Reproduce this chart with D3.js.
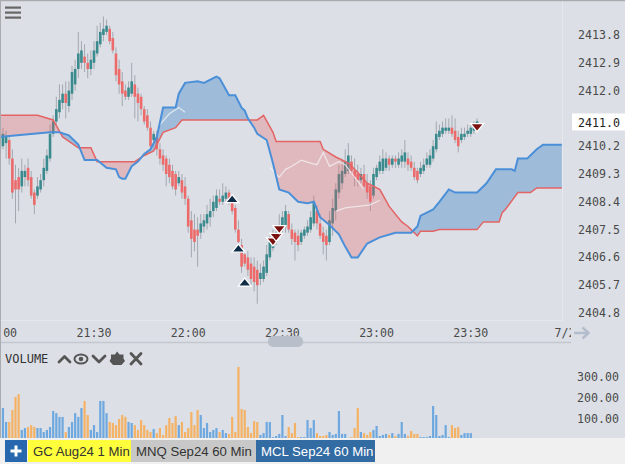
<!DOCTYPE html>
<html><head><meta charset="utf-8">
<script src="https://cdn.jsdelivr.net/npm/d3@7"></script>
<style>
html,body{margin:0;padding:0;background:#dce0e6;overflow:hidden}
svg{display:block}
</style></head><body>
<svg id="c" width="625" height="464"></svg>
<script>
// 1-minute bars from 21:00, each [open, high, low, close]
const candles = [
[2410.1,2410.7,2409.9,2410.5],[2410.2,2410.8,2410.1,2410.6],[2410.3,2410.7,2409.8,2410.5],[2410.4,2410.5,2409.6,2409.8],
[2409.8,2410.1,2408.5,2408.7],[2409.1,2409.6,2407.7,2408.8],[2409.2,2409.5,2408.1,2408.8],[2408.9,2409.8,2408.7,2409.4],
[2409.2,2409.6,2408.9,2409.4],[2409.5,2409.8,2408.9,2409.1],[2409.2,2409.4,2408.5,2408.6],[2408.7,2408.8,2408.0,2408.3],
[2408.6,2409.2,2408.5,2408.9],[2408.8,2409.3,2408.7,2409.1],[2409.1,2409.8,2408.9,2409.5],[2409.4,2410.1,2409.3,2409.9],
[2409.8,2410.9,2409.7,2410.6],[2410.6,2411.2,2410.5,2411.0],[2411.0,2411.8,2410.9,2411.4],[2411.3,2412.2,2411.1,2411.7],
[2411.6,2412.2,2411.4,2411.9],[2411.9,2412.3,2411.1,2411.6],[2411.5,2412.3,2411.3,2412.0],[2411.9,2412.8,2411.7,2412.6],
[2412.2,2413.0,2412.0,2412.7],[2412.7,2413.9,2412.4,2413.2],[2412.9,2413.6,2412.7,2413.3],[2413.1,2413.5,2412.6,2412.9],
[2412.9,2413.2,2412.4,2412.7],[2412.7,2413.3,2412.5,2413.0],[2412.9,2413.6,2412.7,2413.3],[2413.2,2414.1,2413.1,2413.6],
[2413.5,2414.2,2413.4,2413.9],[2413.8,2414.4,2413.6,2414.0],[2413.9,2414.3,2413.8,2414.1],[2414.0,2414.1,2413.5,2413.6],
[2413.7,2413.9,2413.2,2413.3],[2413.2,2413.4,2412.3,2412.5],[2412.7,2413.0,2411.9,2412.2],[2412.3,2412.6,2411.5,2411.9],
[2412.0,2412.2,2411.7,2411.8],[2411.8,2412.3,2411.7,2412.1],[2411.9,2412.9,2411.8,2412.3],[2412.2,2412.5,2411.1,2411.8],
[2411.9,2412.1,2411.0,2411.6],[2411.8,2411.9,2411.2,2411.4],[2411.4,2411.5,2410.9,2411.0],[2411.2,2411.4,2410.7,2410.8],
[2410.8,2411.0,2410.1,2410.2],[2410.4,2410.7,2410.2,2410.6],[2410.5,2410.7,2409.9,2410.1],[2410.1,2410.3,2409.6,2409.8],
[2409.9,2410.1,2409.4,2409.6],[2409.8,2409.9,2408.9,2409.3],[2409.6,2409.8,2409.0,2409.2],[2409.4,2409.6,2408.8,2408.9],
[2409.3,2409.4,2408.6,2408.8],[2409.0,2409.4,2408.9,2409.2],[2409.1,2409.3,2408.5,2408.7],[2408.9,2409.2,2408.3,2408.5],
[2408.5,2408.6,2407.4,2407.6],[2407.8,2408.1,2406.6,2407.2],[2407.5,2408.0,2406.8,2407.1],[2407.5,2407.9,2406.3,2407.3],
[2407.4,2408.0,2407.2,2407.7],[2407.6,2408.0,2407.4,2407.8],[2407.7,2408.3,2407.5,2408.0],[2407.9,2408.5,2407.6,2408.1],
[2408.1,2408.6,2407.9,2408.4],[2408.2,2408.8,2408.1,2408.6],[2408.5,2408.8,2408.3,2408.4],[2408.4,2409.0,2408.3,2408.6],
[2408.5,2408.9,2408.4,2408.7],[2408.7,2408.8,2408.3,2408.5],[2408.5,2408.6,2408.0,2408.1],[2408.2,2408.3,2407.4,2407.5],
[2407.5,2407.8,2407.0,2407.1],[2407.0,2407.2,2406.1,2406.3],[2406.7,2406.8,2406.3,2406.4],[2406.6,2406.8,2406.0,2406.2],
[2406.4,2406.6,2405.7,2405.9],[2406.3,2406.6,2405.5,2405.8],[2406.2,2406.5,2405.1,2405.7],[2405.9,2406.4,2405.7,2406.1],
[2405.9,2406.5,2405.8,2406.3],[2406.1,2407.0,2406.0,2406.7],[2406.6,2407.3,2406.5,2407.1],[2406.9,2407.5,2406.8,2407.3],
[2407.1,2407.6,2407.0,2407.4],[2407.3,2408.0,2407.2,2407.6],[2407.5,2408.1,2407.4,2407.9],[2407.6,2408.3,2407.4,2408.1],
[2408.0,2408.1,2407.4,2407.5],[2407.5,2407.7,2407.0,2407.2],[2407.4,2407.5,2406.5,2407.1],[2407.3,2407.5,2406.8,2407.0],
[2407.1,2407.5,2407.0,2407.4],[2407.3,2407.6,2407.2,2407.5],[2407.4,2407.8,2407.3,2407.6],[2407.5,2408.1,2407.4,2407.9],
[2407.7,2408.6,2407.6,2408.4],[2408.1,2408.3,2407.5,2407.7],[2407.7,2408.0,2407.2,2407.3],[2407.4,2407.6,2406.7,2407.1],
[2407.3,2407.5,2406.5,2407.0],[2407.1,2408.1,2407.0,2407.8],[2407.7,2408.5,2407.3,2408.2],[2408.1,2409.0,2407.8,2408.8],
[2408.7,2409.6,2408.5,2409.3],[2409.0,2409.8,2408.8,2409.4],[2409.3,2410.1,2409.2,2409.7],[2409.4,2410.3,2409.3,2409.9],
[2409.7,2409.9,2409.3,2409.4],[2409.4,2409.8,2408.9,2409.2],[2409.3,2409.6,2408.9,2409.1],[2409.1,2409.5,2409.0,2409.3],
[2409.3,2409.6,2408.8,2408.9],[2409.0,2409.3,2408.5,2408.7],[2408.9,2409.1,2408.1,2408.4],[2408.6,2409.5,2408.5,2409.3],
[2409.2,2409.6,2409.1,2409.5],[2409.4,2409.9,2409.3,2409.7],[2409.4,2410.1,2409.3,2409.8],[2409.5,2410.0,2409.4,2409.8],
[2409.8,2409.9,2409.4,2409.6],[2409.6,2409.9,2409.5,2409.8],[2409.8,2409.9,2409.5,2409.7],[2409.6,2410.0,2409.5,2409.8],
[2409.7,2410.1,2409.5,2409.9],[2409.7,2410.4,2409.5,2410.0],[2409.8,2410.0,2409.4,2409.6],[2409.7,2409.9,2409.4,2409.5],
[2409.5,2409.7,2409.1,2409.2],[2409.4,2409.5,2409.0,2409.1],[2409.3,2409.7,2409.2,2409.5],[2409.4,2409.8,2409.3,2409.6],
[2409.6,2410.0,2409.5,2409.8],[2409.6,2410.1,2409.5,2409.9],[2409.8,2410.4,2409.7,2410.2],[2410.1,2411.0,2410.0,2410.6],
[2410.5,2410.9,2410.4,2410.7],[2410.6,2411.0,2410.5,2410.8],[2410.7,2411.1,2410.6,2410.8],[2410.7,2411.1,2410.6,2410.8],
[2410.8,2411.2,2410.5,2410.6],[2410.7,2411.1,2410.3,2410.4],[2410.5,2410.7,2410.0,2410.2],[2410.4,2410.8,2410.3,2410.6],
[2410.5,2410.8,2410.4,2410.6],[2410.6,2410.9,2410.5,2410.7],[2410.6,2410.9,2410.5,2410.8],[2410.7,2411.0,2410.6,2410.9],
[2410.8,2411.1,2410.7,2411.0]
];
const volumes = [
100,152,86,86,143,205,219,48,57,62,71,62,57,57,38,48,62,138,128,110,
110,38,62,86,128,110,152,186,119,48,71,38,186,186,128,86,81,71,100,119,
110,86,81,71,48,95,71,48,38,52,33,57,24,71,105,81,114,71,86,38,
57,133,71,143,119,57,81,38,48,57,38,48,33,29,110,38,348,148,143,62,
33,90,86,24,33,86,86,14,19,29,119,19,62,33,81,14,14,14,95,57,
95,33,19,19,24,38,24,29,138,29,29,10,14,57,152,38,33,24,38,48,
67,19,24,29,24,33,19,29,86,29,20,43,29,29,14,14,14,19,162,119,
19,24,71,14,71,57,62,24,33,33,33,10,10
];
// Ichimoku leading spans: [minute index from 21:00, price]
const spanA = [[0,2410.5],[16,2410.65],[19,2410.65],[22,2410.55],[25,2410.25],[27,2409.75],[31,2409.75],[34,2409.5],[37,2409.45],[38,2409.2],[39,2409.15],[40,2409.15],[42,2409.55],[44,2409.7],[46,2409.95],[48,2410.1],[50,2410.5],[52,2411.45],[56,2411.45],[57,2411.9],[59,2412.25],[63,2412.3],[65,2412.25],[69,2412.45],[70,2412.4],[73,2411.85],[75,2411.85],[77,2411.45],[78,2411.35],[79,2411.1],[81,2410.8],[82,2410.6],[85,2410.4],[87,2409.65],[89,2408.8],[92,2408.7],[95,2408.4],[98,2408.35],[100,2408.4],[102,2407.9],[105,2407.65],[108,2407.35],[110,2406.95],[112,2406.6],[114,2406.6],[117,2407.05],[121,2407.25],[126,2407.4],[131,2407.4],[133,2407.6],[134,2407.95],[136,2408.05],[138,2408.15],[140,2408.4],[143,2408.8],[145,2408.7],[152,2408.7],[155,2409.0],[158,2409.45],[163,2409.45],[164,2409.4],[165,2409.8],[168,2409.8],[171,2410.1],[173,2410.25],[179,2410.25]];
const spanB = [[0,2411.2],[12,2411.2],[17,2411.05],[20,2410.5],[25,2410.15],[29,2410.15],[31,2409.7],[43,2409.7],[46,2409.9],[49,2410.05],[52,2410.65],[56,2410.8],[58,2411.05],[82,2411.05],[84,2411.2],[87,2410.65],[88,2410.35],[102,2410.35],[103,2410.1],[107,2409.85],[111,2409.65],[114,2409.35],[117,2409.0],[121,2408.8],[124,2408.25],[128,2407.75],[130,2407.6],[133,2407.3],[134,2407.45],[138,2407.45],[140,2407.5],[152,2407.5],[154,2407.75],[159,2407.75],[160,2408.05],[161,2408.15],[165,2408.7],[169,2408.7],[171,2408.85],[179,2408.85]];
// faint light lines seen inside the cloud
const lightLine1 = [[86,2409.5],[89,2409.2],[91,2409.45],[93,2409.55],[96,2409.75],[99,2409.65],[101,2409.6],[103,2410.0],[105,2409.55],[108,2409.7],[110,2409.6],[113,2409.2],[116,2408.8]];
const lightLine2 = [[107,2408.1],[110,2408.2],[114,2408.25],[118,2408.3],[121,2408.45]];
const lightLine3 = [[51,2410.9],[54,2411.25],[57,2411.45],[59,2411.3]];
const buySignals = [[74,2408.5],[76,2406.9],[78,2405.8]];
const sellSignals = [[87,2407.1],[88,2407.25],[89,2407.5],[152,2410.8]];
const priceTicks = [2404.8,2405.7,2406.6,2407.5,2408.4,2409.3,2410.2,2412.0,2412.9,2413.8];
const volumeTicks = [100,200,300];
const lastPrice = 2411.0;
const tabLabels = ["GC Aug24 1 Min","MNQ Sep24 60 Min","MCL Sep24 60 Min"];

const svg = d3.select('#c');
const W = 625, H = 464;
const base = new Date(2024, 6, 1, 21, 0);
const T = m => new Date(base.getTime() + m * 60000);
const x = d3.scaleTime().domain([T(0), T(180)]).range([-0.2, 565]);
const y = d3.scaleLinear().domain([2404.8, 2413.8]).range([313, 35]);
const yv = d3.scaleLinear().domain([0, 300]).range([440, 377]);
const mono = "'DejaVu Sans Mono', monospace";

svg.append('rect').attr('width', W).attr('height', H).attr('fill', '#dce0e6');
const defs = svg.append('defs');
defs.append('clipPath').attr('id', 'plotClip').append('rect').attr('x', 1).attr('y', 2).attr('width', 561).attr('height', 318);
defs.append('clipPath').attr('id', 'volClip').append('rect').attr('x', 1).attr('y', 346).attr('width', 561).attr('height', 92);
defs.append('clipPath').attr('id', 'xClip').append('rect').attr('x', 1).attr('y', 320).attr('width', 570).attr('height', 26);

// plot frame
svg.append('path').attr('d', 'M0,320.5H562.5V0').attr('fill', 'none').attr('stroke', '#e5e8ec').attr('stroke-width', 1);

const bars = candles.map((d, i) => ({t: i, o: d[0], h: d[1], l: d[2], c: d[3], v: volumes[i], up: d[3] >= d[0]}));
const plot = svg.append('g').attr('clip-path', 'url(#plotClip)');
plot.selectAll('line.wick').data(bars).join('line').attr('class', 'wick')
  .attr('x1', d => x(T(d.t))).attr('x2', d => x(T(d.t)))
  .attr('y1', d => y(d.h)).attr('y2', d => y(d.l))
  .attr('stroke', '#a3a8b0').attr('stroke-width', 1);
plot.selectAll('rect.body').data(bars).join('rect').attr('class', 'body')
  .attr('x', d => x(T(d.t)) - 1.3).attr('width', 2.6)
  .attr('y', d => y(Math.max(d.o, d.c)))
  .attr('height', d => Math.max(1.2, Math.abs(y(d.o) - y(d.c))))
  .attr('fill', d => d.up ? '#3a8a8e' : '#ec6a6a');

// cloud
const pA = spanA.map(d => [x(T(d[0])), y(d[1])]);
const pB = spanB.map(d => [x(T(d[0])), y(d[1])]);
const poly = pts => 'M' + pts.map(p => p[0].toFixed(2) + ',' + p[1].toFixed(2)).join('L') + 'Z';
const above = pts => {
  const f = pts[0], l = pts[pts.length - 1];
  return poly([[f[0] - 30, -200], [f[0] - 30, f[1]]].concat(pts, [[l[0] + 30, l[1]], [l[0] + 30, -200]]));
};
defs.append('clipPath').attr('id', 'aboveA').append('path').attr('d', above(pA));
defs.append('clipPath').attr('id', 'aboveB').append('path').attr('d', above(pB));
const between = poly(pA.concat(pB.slice().reverse()));
plot.append('path').attr('d', between).attr('fill', 'rgba(232,96,100,0.30)').attr('clip-path', 'url(#aboveA)');
plot.append('path').attr('d', between).attr('fill', 'rgba(72,138,200,0.42)').attr('clip-path', 'url(#aboveB)');
const lineTP = d3.line().x(d => x(T(d[0]))).y(d => y(d[1]));
[lightLine1, lightLine2, lightLine3].forEach(L => {
  plot.append('path').attr('d', lineTP(L)).attr('fill', 'none')
    .attr('stroke', 'rgba(246,246,248,0.7)').attr('stroke-width', 1.3);
});
plot.append('path').attr('d', d3.line()(pB)).attr('fill', 'none').attr('stroke', '#e36464').attr('stroke-width', 1.5);
plot.append('path').attr('d', d3.line()(pA)).attr('fill', 'none').attr('stroke', '#4a8fd8').attr('stroke-width', 2);

// signals
plot.selectAll('path.buy').data(buySignals).join('path').attr('class', 'buy')
  .attr('d', d => { const cx = x(T(d[0])), cy = y(d[1]); return `M${cx-6.5},${cy+4}L${cx},${cy-4}L${cx+6.5},${cy+4}Z`; })
  .attr('fill', '#0f2c47').attr('stroke', '#ffffff').attr('stroke-width', 1.3);
plot.selectAll('path.sell').data(sellSignals).join('path').attr('class', 'sell')
  .attr('d', d => { const cx = x(T(d[0])), cy = y(d[1]); return `M${cx-6.5},${cy-4}L${cx+6.5},${cy-4}L${cx},${cy+4}Z`; })
  .attr('fill', '#7a1010').attr('stroke', '#ffffff').attr('stroke-width', 1.3);

// price axis
svg.append('g').selectAll('text').data(priceTicks).join('text')
  .attr('x', 578).attr('y', d => y(d)).attr('dy', '0.35em')
  .attr('font-family', mono).attr('font-size', 11.6).attr('fill', '#4a4a4a')
  .text(d => d.toFixed(1));
svg.append('rect').attr('x', 572).attr('y', y(lastPrice) - 8).attr('width', 53).attr('height', 17).attr('fill', '#ffffff');
svg.append('text').attr('x', 578).attr('y', y(lastPrice) + 1).attr('dy', '0.35em')
  .attr('font-family', mono).attr('font-size', 11.6).attr('fill', '#222').text(lastPrice.toFixed(1));

// time axis (the first label is only partly inside the view; its visible part is shown)
const xTicks = x.ticks(d3.timeMinute.every(30));
const fmt = d => d.getHours() === 0 ? (d.getMonth() + 1) + '/' + d.getDate() : d3.timeFormat('%H:%M')(d);
svg.append('g').attr('clip-path', 'url(#xClip)').selectAll('text').data(xTicks).join('text')
  .attr('x', d => x(d) < 10 ? x(d) + 17.3 : x(d)).attr('y', 337)
  .attr('text-anchor', d => x(d) < 10 ? 'end' : 'middle')
  .attr('font-family', mono).attr('font-size', 11.6).attr('fill', '#4a4a4a')
  .text(d => x(d) < 10 ? fmt(d).slice(3) : fmt(d));
svg.append('line').attr('x1', 0).attr('x2', 571).attr('y1', 342.5).attr('y2', 342.5).attr('stroke', '#c3c8d0').attr('stroke-width', 1.5);
svg.append('rect').attr('x', 268).attr('y', 336).attr('width', 35).attr('height', 11).attr('rx', 5).attr('fill', '#b8bfcb');
svg.append('path').attr('d', 'M574,333H588M582.5,327.5L588.5,333L582.5,338.5').attr('fill', 'none').attr('stroke', '#b4bdcb').attr('stroke-width', 2.6);

// volume panel
const vol = svg.append('g').attr('clip-path', 'url(#volClip)');
vol.selectAll('rect').data(bars).join('rect')
  .attr('x', d => x(T(d.t)) - 1.1).attr('width', 2.2)
  .attr('y', d => yv(d.v)).attr('height', d => yv(0) - yv(d.v))
  .attr('fill', d => d.up ? '#6ea8df' : '#f5b264');
svg.append('g').selectAll('text').data(volumeTicks).join('text')
  .attr('x', 577).attr('y', d => yv(d)).attr('dy', '0.35em')
  .attr('font-family', mono).attr('font-size', 11.6).attr('fill', '#4a4a4a')
  .text(d => d.toFixed(2));
svg.append('text').attr('x', 5).attr('y', 363).attr('font-family', mono).attr('font-size', 12)
  .attr('fill', '#333').text('VOLUME');
const ic = svg.append('g').attr('fill', 'none').attr('stroke', '#555').attr('stroke-width', 2.8).attr('stroke-linecap', 'round').attr('stroke-linejoin', 'round');
ic.append('path').attr('d', 'M59,362L64.5,356.5L70,362');
ic.append('ellipse').attr('cx', 81).attr('cy', 359).attr('rx', 6.5).attr('ry', 4.6).attr('stroke-width', 2);
svg.append('circle').attr('cx', 81).attr('cy', 359).attr('r', 2.3).attr('fill', '#555');
ic.append('path').attr('d', 'M93,356L99,362L105,356');
svg.append('path').attr('d', 'M117,351.5L119.5,354.5L123.5,354.5L123.5,358.5L125,361L121.5,365L113,365L109.5,361L111,358.5L111,354.5L115,354.5Z').attr('fill', '#555');
ic.append('path').attr('d', 'M131,353.5L141,364M141,353.5L131,364');

// frame borders
svg.append('line').attr('x1', 0).attr('x2', W).attr('y1', 0.5).attr('y2', 0.5).attr('stroke', '#a9abae').attr('stroke-width', 1.5);
svg.append('line').attr('x1', 0.5).attr('x2', 0.5).attr('y1', 0).attr('y2', 438).attr('stroke', '#a9abae').attr('stroke-width', 1);

// hamburger
svg.append('g').selectAll('rect').data([6.5, 11.5, 16.5]).join('rect')
  .attr('x', 5).attr('y', d => d).attr('width', 16).attr('height', 2.2).attr('fill', '#666');

// tab bar
svg.append('rect').attr('x', 0).attr('y', 438).attr('width', W).attr('height', 26).attr('fill', '#f0f0f0');
svg.append('rect').attr('x', 5).attr('y', 440).attr('width', 22).attr('height', 22).attr('fill', '#2667ad');
svg.append('path').attr('d', 'M16,445.5V456.5M10.5,451H21.5').attr('stroke', '#fff').attr('stroke-width', 3);
const tabs = [
  {x: 28, w: 103, bg: '#ffff3c', fg: '#333'},
  {x: 131, w: 125, bg: '#c8c8c8', fg: '#333'},
  {x: 256, w: 119, bg: '#336ba3', fg: '#ffffff'}
];
tabs.forEach((t, i) => {
  svg.append('rect').attr('x', t.x).attr('y', 440).attr('width', t.w).attr('height', 22).attr('fill', t.bg);
  svg.append('text').attr('x', t.x + 5).attr('y', 456).attr('font-family', "'Liberation Sans', Arial, sans-serif")
    .attr('font-size', 13.2).attr('fill', t.fg).text(tabLabels[i]);
});
</script>
</body></html>
